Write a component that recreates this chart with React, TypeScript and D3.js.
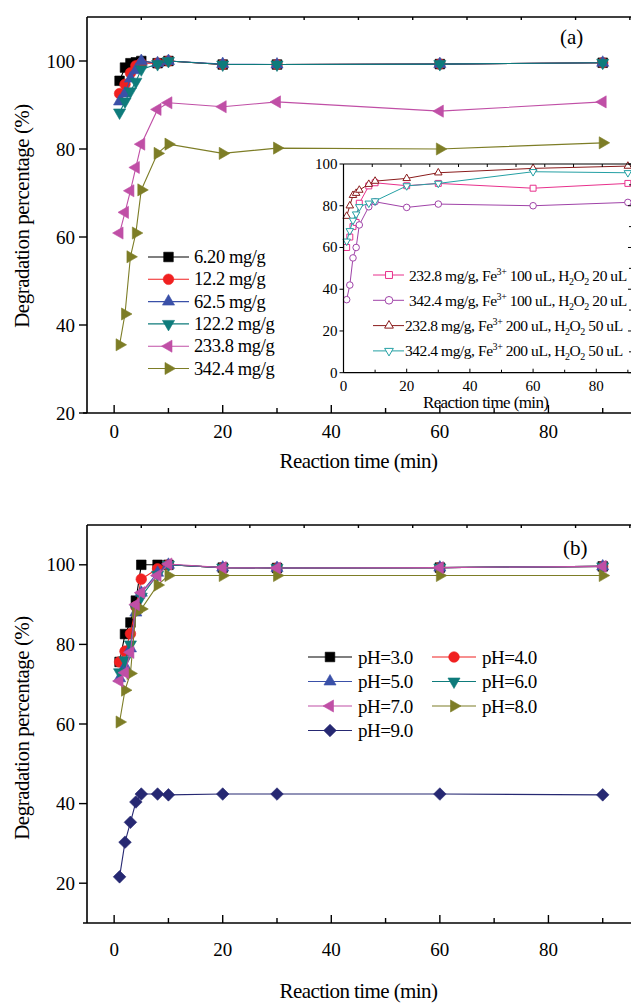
import React from "react";
import * as d3 from "d3";

// ---------- data ----------
const times = [1, 2, 3, 4, 5, 8, 10, 20, 30, 60, 90];

const dose620 = [95.5, 98.5, 99.5, 99.7, 100, 99.5, 100, 99.2, 99.2, 99.3, 99.6];
const dose122 = [92.6, 94.7, 97.3, 98.9, 99.5, 99.5, 100, 99.2, 99.2, 99.3, 99.6];
const dose625 = [90.8, 92.6, 96.0, 97.9, 100, 99.5, 100, 99.3, 99.2, 99.3, 99.6];
const dose1222 = [88.3, 90.8, 93.1, 95.3, 98.1, 99.3, 100, 99.2, 99.2, 99.3, 99.6];
const dose2338 = [60.9, 65.6, 70.5, 75.8, 81.1, 89.0, 90.5, 89.6, 90.7, 88.6, 90.7];
const dose3424 = [35.5, 42.5, 55.5, 60.9, 70.7, 79.0, 81.1, 79.0, 80.2, 80.0, 81.4];
const doseLabels = ["6.20 mg/g", "12.2 mg/g", "62.5 mg/g", "122.2 mg/g", "233.8 mg/g", "342.4 mg/g"];

const ins1 = [60, 65, 70, 72, 81.2, 89.5, 91, 89.6, 90.7, 88.4, 90.7];
const ins2 = [35, 42, 55, 60, 70.8, 79.5, 81.9, 79.2, 80.8, 80.0, 81.6];
const ins3 = [75, 80, 85, 86, 87.5, 90.3, 91.8, 93.1, 95.8, 97.9, 99.0];
const ins4 = [63, 68, 73, 76, 79.5, 81.2, 82.3, 89.5, 90.7, 96.3, 95.8];
const insLabels = [
  ["232.8 mg/g, Fe", "100 uL, H", "20 uL"],
  ["342.4 mg/g, Fe", "100 uL, H", "20 uL"],
  ["232.8 mg/g, Fe", "200 uL, H", "50 uL"],
  ["342.4 mg/g, Fe", "200 uL, H", "50 uL"],
];

const pH3 = [75.6, 82.6, 85.5, 91.0, 100, 100, 100, 99.3, 99.2, 99.3, 99.6];
const pH4 = [75.6, 78.3, 82.7, 89.5, 96.4, 99.0, 100, 99.3, 99.2, 99.3, 99.6];
const pH5 = [71.5, 74.5, 79.0, 88.0, 93.0, 98.0, 100, 99.3, 99.2, 99.3, 99.6];
const pH6 = [73.0, 76.0, 80.0, 89.0, 92.0, 97.5, 100, 99.3, 99.2, 99.3, 99.6];
const pH7 = [70.8, 72.9, 78.0, 90.0, 93.0, 97.3, 100.2, 99.3, 99.2, 99.3, 99.6];
const pH8 = [60.5, 68.5, 72.7, 88.0, 88.9, 94.9, 97.3, 97.3, 97.3, 97.3, 97.3];
const pH9 = [21.6, 30.3, 35.3, 40.4, 42.4, 42.4, 42.2, 42.4, 42.4, 42.4, 42.2];
const pHLabels = ["pH=3.0", "pH=4.0", "pH=5.0", "pH=6.0", "pH=7.0", "pH=8.0", "pH=9.0"];

const xTicksMajor = [0, 20, 40, 60, 80];
const xTicksMinor = [10, 30, 50, 70, 90];
const xTicksTop = [5, 15, 25, 35, 45, 55, 65, 75, 85, 95];
const yTicksA = [20, 40, 60, 80, 100];
const yTicksB = [20, 40, 60, 80, 100];
const insXMajor = [0, 20, 40, 60, 80];
const insXMinor = [10, 30, 50, 70, 90];
const insXTop = [9.1, 18.2, 27.3, 36.4, 45.5, 54.6, 63.7, 72.8, 81.9, 91];
const insYMajor = [0, 20, 40, 60, 80, 100];
const insYMinor = [10, 30, 50, 70, 90];

// ---------- style ----------
const FONT = '"Liberation Serif", "Times New Roman", serif';
const C = {
  black: "#000000",
  red: "#f02020",
  blue: "#3a50a8",
  teal: "#0e7b7b",
  pink: "#c04fa6",
  olive: "#7d7d26",
  navy: "#262872",
  iPink: "#e8308c",
  iPurple: "#a043a8",
  iRed: "#8a1c1c",
  iTeal: "#24a0a4",
};

type MType = "square" | "circle" | "up" | "down" | "left" | "right" | "diamond";

function Marker({ t, x, y, r, fill, stroke, sw = 0.8 }: { t: MType; x: number; y: number; r: number; fill: string; stroke: string; sw?: number }) {
  if (t === "circle") return <circle cx={x} cy={y} r={r} fill={fill} stroke={stroke} strokeWidth={sw} />;
  let pts: [number, number][] = [];
  const h = 0.866;
  if (t === "square") pts = [[-r, -r], [r, -r], [r, r], [-r, r]];
  if (t === "up") pts = [[0, -r], [r * h, r / 2], [-r * h, r / 2]];
  if (t === "down") pts = [[0, r], [r * h, -r / 2], [-r * h, -r / 2]];
  if (t === "left") pts = [[-r, 0], [r / 2, -r * h], [r / 2, r * h]];
  if (t === "right") pts = [[r, 0], [-r / 2, -r * h], [-r / 2, r * h]];
  if (t === "diamond") pts = [[0, -r], [r, 0], [0, r], [-r, 0]];
  const d = "M" + pts.map((p) => `${x + p[0]},${y + p[1]}`).join("L") + "Z";
  return <path d={d} fill={fill} stroke={stroke} strokeWidth={sw} strokeLinejoin="miter" />;
}

const markR: Record<MType, number> = { square: 4.8, circle: 5.3, up: 7, down: 7, left: 7, right: 7, diamond: 6.3 };

type Series = { vals: number[]; t: MType; color: string; label: string };

function Lines({ series, x, y, open, rScale = 1, lw = 1.1 }: { series: Series[]; x: any; y: any; open?: boolean; rScale?: number; lw?: number }) {
  const line = d3.line<number>().x((_, i) => x(times[i])).y((v) => y(v));
  return (
    <g>
      {series.map((s, k) => (
        <g key={k}>
          <path d={line(s.vals) || ""} fill="none" stroke={s.color} strokeWidth={lw} />
          {s.vals.map((v, i) => (
            <Marker key={i} t={s.t} x={x(times[i])} y={y(v)} r={markR[s.t] * rScale} fill={open ? "white" : s.color} stroke={s.color} sw={open ? 1 : 0.6} />
          ))}
        </g>
      ))}
    </g>
  );
}

function MainAxes({ x, y, yTicks, top, bottom, left, labOff, titleOff, yTitleC }: any) {
  return (
    <g fontFamily={FONT} fill="black">
      <line x1={left} x2={640} y1={top} y2={top} stroke="black" strokeWidth={1.6} />
      <line x1={left - 4} x2={640} y1={bottom} y2={bottom} stroke="black" strokeWidth={1.6} />
      <line x1={left} x2={left} y1={top} y2={bottom} stroke="black" strokeWidth={1.6} />
      {xTicksMajor.map((t) => (
        <g key={"M" + t}>
          <line x1={x(t)} x2={x(t)} y1={bottom} y2={bottom - 8} stroke="black" strokeWidth={1.4} />
          <text x={x(t)} y={bottom + labOff} fontSize={19} textAnchor="middle">{t}</text>
        </g>
      ))}
      {xTicksMinor.map((t) => (
        <line key={"m" + t} x1={x(t)} x2={x(t)} y1={bottom} y2={bottom - 5} stroke="black" strokeWidth={1.4} />
      ))}
      {xTicksTop.map((t) => (
        <line key={"t" + t} x1={x(t)} x2={x(t)} y1={top} y2={top + 3} stroke="black" strokeWidth={1.4} />
      ))}
      {yTicks.map((t: number) => (
        <g key={"y" + t}>
          <line x1={left} x2={left - 8} y1={y(t)} y2={y(t)} stroke="black" strokeWidth={1.4} />
          <text x={left - 12} y={y(t) + 6.5} fontSize={19} textAnchor="end">{t}</text>
        </g>
      ))}
      <text x={x(45)} y={bottom + titleOff} fontSize={21} textAnchor="middle" letterSpacing={-0.6}>Reaction time (min)</text>
      <text transform={`translate(29,${yTitleC}) rotate(-90)`} fontSize={21} textAnchor="middle" letterSpacing={-0.5}>Degradation percentage (%)</text>
    </g>
  );
}

export default function App() {
  const xA = d3.scaleLinear().domain([-5, 100]).range([87, 657]);
  const yA = d3.scaleLinear().domain([20, 110]).range([413, 17]);
  const yB = d3.scaleLinear().domain([10, 110]).range([923, 525]);
  const xI = d3.scaleLinear().domain([0, 92]).range([343.5, 634.2]);
  const yI = d3.scaleLinear().domain([0, 100]).range([372.7, 164]);

  const seriesA: Series[] = [
    { vals: dose3424, t: "right", color: C.olive, label: doseLabels[5] },
    { vals: dose2338, t: "left", color: C.pink, label: doseLabels[4] },
    { vals: dose620, t: "square", color: C.black, label: doseLabels[0] },
    { vals: dose122, t: "circle", color: C.red, label: doseLabels[1] },
    { vals: dose625, t: "up", color: C.blue, label: doseLabels[2] },
    { vals: dose1222, t: "down", color: C.teal, label: doseLabels[3] },
  ];
  const legendA: Series[] = [seriesA[2], seriesA[3], seriesA[4], seriesA[5], seriesA[1], seriesA[0]];

  const seriesI: Series[] = [
    { vals: ins1, t: "square", color: C.iPink, label: "" },
    { vals: ins2, t: "circle", color: C.iPurple, label: "" },
    { vals: ins3, t: "up", color: C.iRed, label: "" },
    { vals: ins4, t: "down", color: C.iTeal, label: "" },
  ];

  const seriesB: Series[] = [
    { vals: pH3, t: "square", color: C.black, label: pHLabels[0] },
    { vals: pH4, t: "circle", color: C.red, label: pHLabels[1] },
    { vals: pH5, t: "up", color: C.blue, label: pHLabels[2] },
    { vals: pH6, t: "down", color: C.teal, label: pHLabels[3] },
    { vals: pH8, t: "right", color: C.olive, label: pHLabels[5] },
    { vals: pH7, t: "left", color: C.pink, label: pHLabels[4] },
    { vals: pH9, t: "diamond", color: C.navy, label: pHLabels[6] },
  ];
  const legendB = [seriesB[0], seriesB[1], seriesB[2], seriesB[3], seriesB[5], seriesB[4], seriesB[6]];

  const insLeft = xI(0);
  const insTop = yI(100);
  const insBottom = yI(0);

  return (
    <svg width={631} height={1003} style={{ position: "absolute", left: 0, top: 0, background: "white" }} fontFamily={FONT}>
      <rect width={631} height={1003} fill="white" />
      {/* Panel (a) */}
      <MainAxes x={xA} y={yA} yTicks={yTicksA} top={17} bottom={413} left={87} labOff={25} titleOff={55} yTitleC={216} />
      <text x={560} y={44} fontSize={21}>(a)</text>
      <Lines series={seriesA} x={xA} y={yA} />
      {/* legend a */}
      {legendA.map((s, i) => {
        const yy = 257 + i * 22.3;
        return (
          <g key={i}>
            <line x1={148} x2={189} y1={yy} y2={yy} stroke={s.color} strokeWidth={1.1} />
            <Marker t={s.t} x={168.5} y={yy} r={markR[s.t]} fill={s.color} stroke={s.color} sw={0.6} />
            <text x={194} y={yy + 6} fontSize={18.5} letterSpacing={-0.4}>{s.label}</text>
          </g>
        );
      })}
      {/* inset */}
      <rect x={insLeft} y={insTop} width={300} height={insBottom - insTop} fill="white" />
      <Lines series={seriesI} x={xI} y={yI} open rScale={0.62} lw={1} />
      <g>
        <line x1={insLeft} x2={640} y1={insTop} y2={insTop} stroke="black" strokeWidth={1.2} />
        <line x1={insLeft} x2={640} y1={insBottom} y2={insBottom} stroke="black" strokeWidth={1.2} />
        <line x1={insLeft} x2={insLeft} y1={insTop} y2={insBottom} stroke="black" strokeWidth={1.2} />
        <line x1={xI(91.3)} x2={xI(91.3)} y1={insTop} y2={insBottom} stroke="black" strokeWidth={1.2} />
        {insXMajor.map((t) => (
          <g key={"ix" + t}>
            <line x1={xI(t)} x2={xI(t)} y1={insBottom} y2={insBottom - 4} stroke="black" strokeWidth={1} />
            <text x={xI(t)} y={insBottom + 18} fontSize={15} textAnchor="middle">{t}</text>
          </g>
        ))}
        {insXMinor.map((t) => (
          <line key={"ixm" + t} x1={xI(t)} x2={xI(t)} y1={insBottom} y2={insBottom - 3} stroke="black" strokeWidth={1} />
        ))}
        {insXTop.map((t) => (
          <line key={"ixt" + t} x1={xI(t)} x2={xI(t)} y1={insTop} y2={insTop + 3} stroke="black" strokeWidth={1} />
        ))}
        {insYMajor.map((t) => (
          <g key={"iy" + t}>
            <line x1={insLeft} x2={insLeft - 4} y1={yI(t)} y2={yI(t)} stroke="black" strokeWidth={1} />
            <line x1={xI(91.3)} x2={xI(91.3) - 4} y1={yI(t)} y2={yI(t)} stroke="black" strokeWidth={1} />
            <text x={insLeft - 6} y={yI(t) + 5} fontSize={15} textAnchor="end">{t}</text>
          </g>
        ))}
        {insYMinor.map((t) => (
          <line key={"iym" + t} x1={xI(91.3)} x2={xI(91.3) - 3} y1={yI(t)} y2={yI(t)} stroke="black" strokeWidth={1} />
        ))}
        <text x={xI(45)} y={insBottom + 35} fontSize={17} textAnchor="middle" letterSpacing={-0.6}>Reaction time (min)</text>
      </g>
      {/* inset legend */}
      {seriesI.map((s, i) => {
        const yy = 275 + i * 25.3;
        const lab = insLabels[i];
        return (
          <g key={i}>
            <line x1={373} x2={404} y1={yy} y2={yy} stroke={s.color} strokeWidth={1} />
            <Marker t={s.t} x={389} y={yy} r={markR[s.t] * 0.72} fill="white" stroke={s.color} sw={1} />
            <text x={i < 2 ? 409 : 405} y={yy + 5.5} fontSize={15.5} letterSpacing={-0.45}>
              {lab[0]}
              <tspan fontSize={10} dy={-6}>3+</tspan>
              <tspan dy={6}> {lab[1]}</tspan>
              <tspan fontSize={10} dy={4}>2</tspan>
              <tspan dy={-4}>O</tspan>
              <tspan fontSize={10} dy={4}>2</tspan>
              <tspan dy={-4}> {lab[2]}</tspan>
            </text>
          </g>
        );
      })}

      {/* Panel (b) */}
      <MainAxes x={xA} y={yB} yTicks={yTicksB} top={525} bottom={923} left={87} labOff={33} titleOff={75} yTitleC={728} />
      <text x={563} y={555} fontSize={21}>(b)</text>
      <Lines series={seriesB} x={xA} y={yB} />
      {legendB.map((s, i) => {
        const col = i % 2;
        const row = Math.floor(i / 2);
        const yy = 657 + row * 24.5;
        const x0 = col === 0 ? 308 : 432;
        return (
          <g key={i}>
            <line x1={x0} x2={x0 + 44} y1={yy} y2={yy} stroke={s.color} strokeWidth={1.1} />
            <Marker t={s.t} x={x0 + 22} y={yy} r={markR[s.t]} fill={s.color} stroke={s.color} sw={0.6} />
            <text x={x0 + 50} y={yy + 6.5} fontSize={19} letterSpacing={-0.5}>{s.label}</text>
          </g>
        );
      })}
    </svg>
  );
}
